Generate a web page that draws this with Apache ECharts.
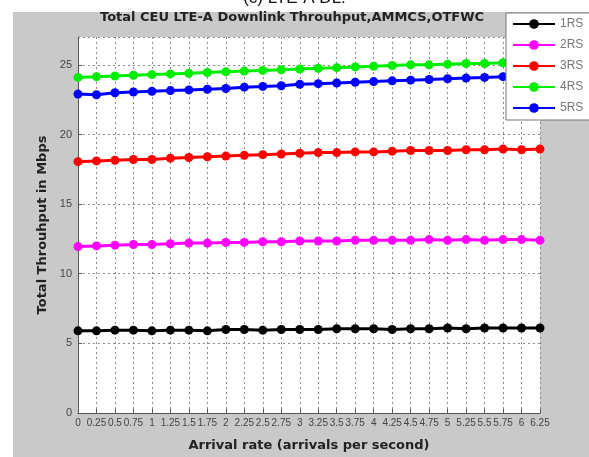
<!DOCTYPE html>
<html>
<head>
<meta charset="utf-8">
<script src="https://cdn.jsdelivr.net/npm/echarts@6/dist/echarts.min.js"></script>
<style>
  html, body { margin: 0; padding: 0; background: #fff; }
  #chart { width: 589px; height: 457px; }
</style>
</head>
<body>
<div id="chart"></div>
<script>
// Arrival rates (arrivals per second)
const arrivalRates = ['0','0.25','0.5','0.75','1','1.25','1.5','1.75','2','2.25','2.5','2.75','3',
  '3.25','3.5','3.75','4','4.25','4.5','4.75','5','5.25','5.5','5.75','6','6.25'];

// Total throughput (Mbps) per relay-station configuration
const rs1 = [5.9, 5.9, 5.95, 5.95, 5.9, 5.95, 5.95, 5.9, 6.0, 6.0, 5.95, 6.0, 6.0,
  6.0, 6.05, 6.05, 6.05, 6.0, 6.05, 6.05, 6.1, 6.05, 6.1, 6.1, 6.1, 6.1];
const rs2 = [11.95, 12.0, 12.05, 12.1, 12.1, 12.15, 12.2, 12.2, 12.25, 12.25, 12.3, 12.3, 12.35,
  12.35, 12.35, 12.4, 12.4, 12.4, 12.4, 12.45, 12.4, 12.45, 12.4, 12.45, 12.45, 12.4];
const rs3 = [18.05, 18.1, 18.15, 18.2, 18.2, 18.3, 18.35, 18.4, 18.45, 18.5, 18.55, 18.6, 18.65,
  18.7, 18.7, 18.75, 18.75, 18.8, 18.85, 18.85, 18.85, 18.9, 18.9, 18.95, 18.9, 18.95];
const rs4 = [24.1, 24.15, 24.2, 24.25, 24.3, 24.35, 24.4, 24.45, 24.5, 24.55, 24.6, 24.65, 24.7,
  24.75, 24.8, 24.85, 24.9, 24.95, 25.0, 25.0, 25.05, 25.1, 25.1, 25.15, 25.2, 25.25];
const rs5 = [22.9, 22.85, 23.0, 23.05, 23.1, 23.15, 23.2, 23.25, 23.3, 23.4, 23.45, 23.5, 23.6,
  23.65, 23.7, 23.75, 23.8, 23.85, 23.9, 23.95, 24.0, 24.05, 24.1, 24.15, 24.2, 24.25];

const seriesNames = ['1RS', '2RS', '3RS', '4RS', '5RS'];
const seriesColors = ['#000000', '#ff00ff', '#ff0000', '#00ee00', '#0000ff'];
const seriesData = [rs1, rs2, rs3, rs4, rs5];

const chart = echarts.init(document.getElementById('chart'), null, { renderer: 'canvas' });

const gridDash = { color: '#8a8a8a', type: [2, 3], width: 1 };
const boldFont = '"DejaVu Sans", sans-serif';

chart.setOption({
  backgroundColor: '#ffffff',
  animation: false,
  graphic: [
    { type: 'rect', z: -10, shape: { x: 13, y: 12, width: 576, height: 445 }, style: { fill: '#c9c9c9' } },
    { type: 'text', z: -5, left: 'center', top: -10,
      style: { text: '(c) LTE-A DL.', font: '17px "Liberation Sans", Arial, sans-serif', fill: '#111' } },
    { type: 'text', z: 1, left: 100, top: 11,
      style: { text: 'Total CEU LTE-A Downlink Throuhput,AMMCS,OTFWC', font: 'bold 13px ' + boldFont, fill: '#222' } }
  ],
  legend: {
    orient: 'vertical',
    left: 506,
    top: 13,
    padding: [5, 10, 6, 6],
    itemWidth: 42,
    itemHeight: 12,
    itemGap: 9,
    backgroundColor: '#ffffff',
    borderColor: '#777',
    borderWidth: 1,
    z: 10,
    textStyle: { color: '#777', fontSize: 12, fontFamily: 'Liberation Sans, Arial, sans-serif' },
    data: seriesNames
  },
  grid: { left: 78, right: 49, top: 37, bottom: 44, show: true, backgroundColor: '#ffffff', borderWidth: 0 },
  xAxis: {
    type: 'category',
    data: arrivalRates,
    boundaryGap: false,
    name: 'Arrival rate (arrivals per second)',
    nameLocation: 'middle',
    nameGap: 26,
    nameTextStyle: { color: '#222', fontWeight: 'bold', fontSize: 13, fontFamily: boldFont },
    axisLine: { lineStyle: { color: '#555', width: 1 } },
    axisTick: { inside: true, length: 4, alignWithLabel: true, interval: 0, lineStyle: { color: '#555' } },
    axisLabel: { interval: 0, hideOverlap: false, color: '#444', fontSize: 10, margin: 5,
      fontFamily: 'Liberation Sans, Arial, sans-serif' },
    splitLine: { show: true, interval: 0, lineStyle: gridDash }
  },
  yAxis: {
    type: 'value',
    min: 0,
    max: 27,
    interval: 5,
    name: 'Total Throuhput in Mbps',
    nameLocation: 'middle',
    nameGap: 28,
    nameTextStyle: { color: '#222', fontWeight: 'bold', fontSize: 13, fontFamily: boldFont },
    axisLine: { show: true, lineStyle: { color: '#555', width: 1 } },
    axisTick: { show: true, inside: true, length: 4, lineStyle: { color: '#555' } },
    axisLabel: { color: '#444', fontSize: 11, margin: 6, showMaxLabel: false,
      fontFamily: 'Liberation Sans, Arial, sans-serif',
      formatter: v => (v % 5 === 0 ? String(v) : '') },
    splitLine: { show: true, lineStyle: gridDash }
  },
  series: seriesNames.map((name, i) => ({
    name: name,
    type: 'line',
    data: seriesData[i],
    symbol: 'circle',
    symbolSize: 9,
    showSymbol: true,
    z: 3,
    itemStyle: { color: seriesColors[i] },
    lineStyle: { color: seriesColors[i], width: 3 }
  }))
});
</script>
</body>
</html>
